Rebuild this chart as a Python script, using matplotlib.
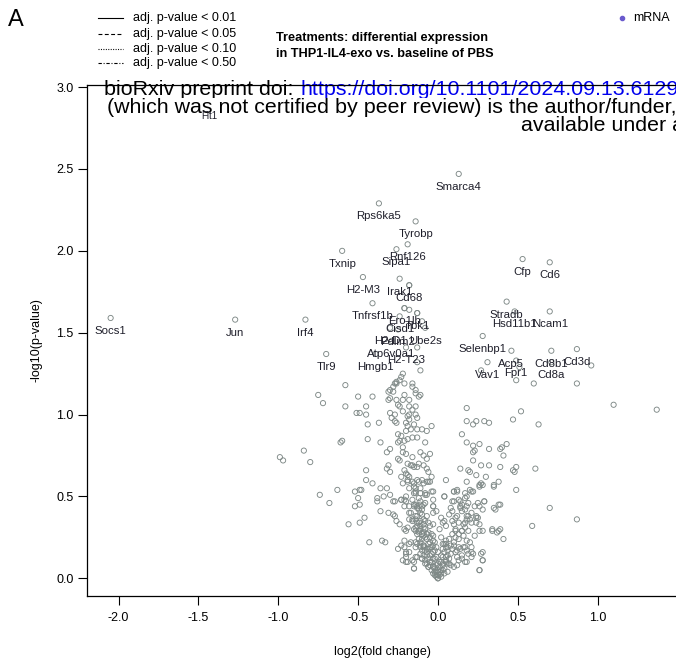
import matplotlib
matplotlib.use("Agg")
import matplotlib.pyplot as plt
from matplotlib.lines import Line2D
from matplotlib import font_manager

plt.rcParams['font.family'] = ['Liberation Sans', 'DejaVu Sans']
plt.rcParams['axes.unicode_minus'] = False

# ---------------- data ----------------
label_genes = ["Flt1", "Socs1", "Jun", "Irf4", "Tlr9", "Txnip", "Rps6ka5", "Smarca4",
               "Tyrobp", "Rnf126", "Sipa1", "H2-M3", "Irak1", "Cd68", "Tnfrsf1b",
               "Ero1lb", "Tbk1", "Cisd1", "H2-D1", "Ube2s", "Pdlim2", "Atp6v0a1",
               "H2-T23", "Hmgb1", "Cfp", "Cd6", "Stradb", "Hsd11b1", "Ncam1",
               "Selenbp1", "Acp5", "Cd8b1", "Cd3d", "Vav1", "Fpr1", "Cd8a"]
label_lfc = [-1.43, -2.05, -1.27, -0.83, -0.70, -0.60, -0.37, 0.13,
             -0.14, -0.19, -0.26, -0.47, -0.24, -0.18, -0.41,
             -0.21, -0.13, -0.24, -0.30, -0.08, -0.25, -0.29,
             -0.20, -0.39, 0.53, 0.70, 0.43, 0.48, 0.70,
             0.28, 0.46, 0.71, 0.87, 0.31, 0.49, 0.71]
label_nlp = [2.90, 1.59, 1.58, 1.58, 1.37, 2.00, 2.29, 2.47,
             2.18, 2.04, 2.01, 1.84, 1.83, 1.79, 1.68,
             1.65, 1.62, 1.60, 1.53, 1.53, 1.52, 1.45,
             1.41, 1.37, 1.95, 1.93, 1.69, 1.63, 1.63,
             1.48, 1.39, 1.39, 1.40, 1.32, 1.33, 1.32]
label_size = [7] + [8.2] * (len(label_genes) - 1)

other_lfc = [
    -0.58, -0.27, -0.26, -0.21, -0.16, -0.14, -0.12, -0.75, -0.72, -0.50, -0.41, -0.58, -0.45,
    -0.31, -0.28, -0.26, -0.31, -0.22, -0.25, -0.24, -0.18, -0.14, -0.51, -0.49, -0.45, -0.30,
    -0.27, -0.18, -0.19, -0.14, -0.44, -0.37, -0.29, -0.27, -0.26, -0.20, -0.15, -0.19, -0.17,
    -0.13, -0.10, -0.07, -0.04, -0.25, -0.44, -0.36, -0.61, -0.60, -0.25, -0.24, -0.21, -0.19,
    -0.16, -0.13, -0.84, -0.80, -0.97, -0.99, -0.32, -0.30, -0.25, -0.24, -0.22, -0.20, -0.16,
    -0.11, -0.09, -0.07, -0.31, -0.32, -0.30, -0.45, -0.19, -0.16, -0.15, -0.13, -0.12, -0.09,
    -0.07, -0.20, -0.18, -0.19, -0.16, -0.13, -0.10, -0.07, -0.05, -0.45, -0.41, -0.36, -0.32,
    -0.23, -0.15, -0.14, -0.11, -0.08, -0.07, -0.03, -0.14, -0.74, -0.63, -0.68, -0.52, -0.49,
    -0.48, -0.50, -0.52, -0.49, -0.46, -0.56, -0.49, -0.38, -0.38, -0.34, -0.30, -0.28, -0.27,
    -0.23, -0.21, -0.20, -0.18, -0.15, -0.13, -0.11, -0.09, -0.03, -0.36, -0.31, -0.28, -0.27,
    -0.26, -0.24, -0.21, -0.20, -0.18, -0.16, -0.14, -0.13, -0.11, -0.09, -0.06, -0.03, -0.14,
    -0.12, -0.09, -0.07, -0.04, -0.03, -0.43, -0.35, -0.33, -0.25, -0.23, -0.21, -0.20, -0.18,
    -0.17, -0.13, -0.11, -0.09, -0.07, -0.05, -0.20, -0.19, -0.15, -0.14, -0.15, -0.11, -0.10,
    -0.08, -0.07, -0.06, -0.05, -0.03, -0.02, -0.01, 0.00,
    0.18, 0.18, 0.22, 0.24, 0.29, 0.32, 0.15, 0.18, 0.22, 0.26, 0.23, 0.22, 0.32, 0.39, 0.22,
    0.14, 0.19, 0.20, 0.24, 0.27, 0.32, 0.39, 0.30, 0.05, 0.10, 0.12, 0.17, 0.18, 0.20, 0.22,
    0.26, 0.28, 0.35, 0.04, 0.09, 0.13, 0.15, 0.14, 0.18, 0.23, 0.26, 0.28, 0.29, 0.35, 0.39,
    0.08, 0.09, 0.12, 0.15, 0.17, 0.19, 0.21, 0.24, 0.25, 0.28, 0.34, 0.38, 0.03, 0.05, 0.10,
    0.11, 0.15, 0.16, 0.17, 0.18, 0.19, 0.26, 0.05, 0.06, 0.10, 0.12, 0.14, 0.17, 0.18, 0.21,
    0.19, 0.22, 0.27, 0.28, 0.26, 0.15, 0.13, 0.10, 0.05, 0.08, 0.03, 0.06, 0.12, 0.17, 0.04,
    0.02,
    0.49, 0.60, 0.87, 1.10, 1.37, 0.52, 0.47, 0.40, 0.43, 0.41, 0.47, 0.48, 0.49, 0.61, 0.49,
    0.70, 0.87, 0.59, 0.39, 0.41, 0.63,
    0.27, 0.51, 0.96,
    -0.18, -0.21, -0.18, -0.13, -0.10, -0.13, -0.13, -0.11, -0.22, -0.23, -0.24, -0.26, -0.28,
    -0.30, -0.16, -0.14, -0.11, -0.30,
    -0.22, -0.19, -0.15, -0.12, -0.09, -0.06, -0.04, 0.04, 0.10, 0.12, 0.18, 0.21, 0.26, 0.27,
    0.35, 0.38, -0.15, -0.11, -0.08, -0.20, -0.23, -0.21, -0.15, -0.13, -0.10, -0.08, -0.03,
    -0.03, 0.10, 0.14, 0.17, 0.19, 0.25, 0.29, 0.36, 0.38, -0.18, -0.14, -0.11, -0.09, -0.07,
    -0.03, 0.04, 0.09, 0.11, 0.13, 0.14, 0.18, 0.20, 0.21, 0.24, 0.24, 0.26, 0.34, 0.37, -0.19,
    -0.14, -0.12, -0.10, -0.08, -0.03, -0.03, -0.21, -0.18, -0.14, -0.11, -0.09, -0.07, -0.05,
    -0.20, -0.22, -0.16, -0.13, -0.10, -0.08, -0.06, -0.04, -0.03, -0.01, 0.00, 0.03, 0.05,
    0.07, 0.11, 0.13, 0.15, 0.17, 0.09, 0.11, 0.13, 0.16, 0.18, 0.21, 0.12, 0.05, 0.03, 0.02,
    0.01, 0.07, 0.15, 0.18, 0.21, 0.28, 0.28, 0.26, -0.15, -0.20, -0.02, -0.01, 0.00,
    -0.05, -0.04, -0.06, -0.07, -0.08, -0.09, -0.06, -0.05, -0.07, -0.04, -0.03, -0.02, -0.01,
    0.01, 0.02, 0.03, 0.04, 0.05, 0.06, 0.04, -0.10, -0.11, -0.12, -0.09, -0.13, -0.06, -0.05,
    -0.08, -0.10, -0.12, -0.14, -0.16, -0.11, -0.02, 0.00, 0.01, -0.01, 0.02, -0.03, 0.08, 0.10,
    0.06, 0.03,
    -0.02, -0.03, -0.04, -0.05, -0.06, -0.07, -0.08, -0.02, 0.00, 0.01, 0.02, 0.00, -0.01, 0.03,
    0.05, 0.06, 0.07, 0.08, 0.04, 0.02, -0.09, -0.10, -0.11, -0.12, -0.13, -0.14, -0.09, -0.15,
    -0.11, -0.13, -0.16, -0.17, -0.10, -0.12, -0.14, -0.18, -0.19, -0.21, -0.17, -0.22, -0.23,
    -0.20, -0.18, -0.22, -0.16, -0.21, -0.18, -0.13, -0.08, -0.05, -0.06, -0.04, 0.11, 0.13,
    0.09, 0.20, 0.23, 0.16, 0.07, 0.01, 0.02, -0.01,
]
other_nlp = [
    1.18, 1.19, 1.20, 1.19, 1.17, 1.13, 1.11, 1.12, 1.07, 1.11, 1.11, 1.05, 1.05,
    1.14, 1.14, 1.09, 1.09, 1.09, 1.06, 1.05, 1.05, 1.05, 1.01, 1.01, 1.00, 1.01,
    1.00, 1.00, 0.99, 1.00, 0.94, 0.95, 0.98, 0.96, 0.95, 0.95, 0.94, 0.93, 0.91,
    0.91, 0.91, 0.90, 0.93, 0.88, 0.85, 0.83, 0.83, 0.84, 0.83, 0.84, 0.84, 0.85,
    0.86, 0.86, 0.78, 0.71, 0.72, 0.74, 0.77, 0.79, 0.73, 0.72, 0.77, 0.76, 0.74,
    0.77, 0.75, 0.73, 0.69, 0.67, 0.65, 0.66, 0.70, 0.69, 0.68, 0.68, 0.70, 0.69,
    0.67, 0.64, 0.62, 0.60, 0.59, 0.60, 0.60, 0.59, 0.59, 0.60, 0.58, 0.55, 0.55,
    0.62, 0.56, 0.55, 0.55, 0.52, 0.51, 0.53, 0.52, 0.51, 0.54, 0.46, 0.53, 0.54,
    0.54, 0.49, 0.44, 0.45, 0.37, 0.33, 0.34, 0.49, 0.47, 0.50, 0.51, 0.47, 0.47,
    0.48, 0.48, 0.47, 0.44, 0.44, 0.44, 0.45, 0.45, 0.44, 0.41, 0.40, 0.39, 0.38,
    0.35, 0.33, 0.30, 0.29, 0.36, 0.35, 0.36, 0.34, 0.32, 0.33, 0.34, 0.33, 0.29,
    0.28, 0.28, 0.27, 0.27, 0.23, 0.22, 0.23, 0.22, 0.18, 0.20, 0.19, 0.15, 0.16,
    0.22, 0.21, 0.19, 0.20, 0.18, 0.19, 0.13, 0.10, 0.10, 0.13, 0.06, 0.15, 0.12,
    0.11, 0.09, 0.07, 0.10, 0.07, 0.04, 0.02, 0.00,
    1.04, 0.96, 0.94, 0.96, 0.96, 0.95, 0.88, 0.83, 0.81, 0.82, 0.78, 0.77, 0.79, 0.79, 0.72,
    0.67, 0.66, 0.65, 0.63, 0.69, 0.69, 0.68, 0.62, 0.60, 0.53, 0.54, 0.52, 0.50, 0.54, 0.53,
    0.56, 0.57, 0.57, 0.50, 0.47, 0.48, 0.45, 0.44, 0.44, 0.44, 0.44, 0.42, 0.47, 0.43, 0.45,
    0.43, 0.41, 0.38, 0.41, 0.42, 0.38, 0.34, 0.37, 0.37, 0.29, 0.30, 0.29, 0.34, 0.32, 0.33,
    0.30, 0.29, 0.26, 0.34, 0.36, 0.29, 0.33, 0.21, 0.19, 0.20, 0.17, 0.18, 0.19, 0.23, 0.19,
    0.15, 0.15, 0.15, 0.11, 0.05, 0.14, 0.11, 0.07, 0.10, 0.08, 0.05, 0.04, 0.08, 0.10, 0.03,
    0.01,
    1.21, 1.19, 1.19, 1.06, 1.03, 1.02, 0.97, 0.80, 0.82, 0.75, 0.66, 0.65, 0.68, 0.67, 0.54,
    0.43, 0.36, 0.32, 0.30, 0.24, 0.94,
    1.27, 1.29, 1.30,
    1.79, 1.65, 1.64, 1.62, 1.57, 1.41, 1.32, 1.27, 1.25, 1.23, 1.21, 1.19, 1.17,
    1.15, 1.19, 1.15, 1.12, 1.10,
    0.58, 0.59, 0.58, 0.59, 0.58, 0.59, 0.53, 0.50, 0.53, 0.53, 0.59, 0.53, 0.57, 0.58,
    0.56, 0.59, 0.52, 0.52, 0.51, 0.50, 0.48, 0.44, 0.45, 0.43, 0.44, 0.46, 0.48,
    0.44, 0.47, 0.47, 0.49, 0.46, 0.46, 0.47, 0.42, 0.45, 0.40, 0.38, 0.40, 0.36, 0.38,
    0.40, 0.35, 0.35, 0.37, 0.34, 0.43, 0.38, 0.36, 0.40, 0.38, 0.34, 0.29, 0.29, 0.28, 0.31,
    0.31, 0.29, 0.27, 0.25, 0.26, 0.20, 0.23, 0.21, 0.19, 0.22, 0.19, 0.16, 0.14,
    0.16, 0.11, 0.11, 0.13, 0.12, 0.09, 0.07, 0.05, 0.03, 0.01, 0.00, 0.21, 0.23,
    0.24, 0.25, 0.27, 0.29, 0.31, 0.18, 0.16, 0.19, 0.19, 0.17, 0.16, 0.13, 0.11, 0.08, 0.05,
    0.02, 0.09, 0.12, 0.10, 0.13, 0.16, 0.11, 0.05, 0.06, 0.10, 0.17, 0.13, 0.09,
    0.08, 0.10, 0.12, 0.14, 0.17, 0.20, 0.18, 0.22, 0.24, 0.15, 0.12, 0.06, 0.04,
    0.07, 0.10, 0.13, 0.16, 0.19, 0.14, 0.06, 0.24, 0.30, 0.34, 0.31, 0.38, 0.28, 0.32,
    0.35, 0.39, 0.42, 0.45, 0.48, 0.47, 0.02, 0.02, 0.04, 0.08, 0.03, 0.07, 0.20, 0.22,
    0.09, 0.18,
    0.12, 0.16, 0.19, 0.25, 0.21, 0.27, 0.30, 0.22, 0.05, 0.10, 0.14, 0.16, 0.19, 0.09,
    0.13, 0.17, 0.12, 0.15, 0.21, 0.25, 0.14, 0.17, 0.20, 0.24, 0.27, 0.22, 0.26, 0.30,
    0.35, 0.32, 0.36, 0.40, 0.42, 0.49, 0.53, 0.55, 0.63, 0.66, 0.69, 0.80, 0.87,
    0.90, 0.97, 1.02, 1.03, 1.12, 1.09, 0.98, 0.83, 0.76, 0.65, 0.62, 0.29, 0.24,
    0.27, 0.22, 0.26, 0.33, 0.39, 0.30, 0.37, 0.41,
]

xticks = [-2.0, -1.5, -1.0, -0.5, 0.0, 0.5, 1.0]
yticks = [0.0, 0.5, 1.0, 1.5, 2.0, 2.5, 3.0]
legend_labels = ["adj. p-value < 0.01", "adj. p-value < 0.05",
                 "adj. p-value < 0.10", "adj. p-value < 0.50"]

# ---------------- figure ----------------
W, H = 676, 665
fig = plt.figure(figsize=(W / 100, H / 100), dpi=100)
ax = fig.add_axes([87 / W, (H - 596) / H, (677 - 87) / W, (596 - 85) / H])
ax.set_xlim(-2.198, 1.497)
ax.set_ylim(-0.108, 3.013)

pt_color = '#7f8987'
ax.scatter(other_lfc, other_nlp, s=14, facecolors='none', edgecolors=pt_color,
           linewidths=0.65, zorder=1)
ax.scatter(label_lfc, label_nlp, s=14, facecolors='none', edgecolors=pt_color,
           linewidths=0.65, zorder=1)
for g, x, y, fs in zip(label_genes, label_lfc, label_nlp, label_size):
    ax.annotate(g, (x, y), xytext=(0, -9.3), textcoords='offset points',
                ha='center', va='center', fontsize=fs, color='#1e1e2a', zorder=3)

ax.set_xticks(xticks)
ax.set_xticklabels([f"{t:.1f}" for t in xticks])
ax.set_yticks(yticks)
ax.set_yticklabels([f"{t:.1f}" for t in yticks])
ax.tick_params(direction='out', length=6.5, width=0.8, labelsize=9, colors='black')
ax.tick_params(axis='x', pad=5)
ax.tick_params(axis='y', pad=3)
for sp in ax.spines.values():
    sp.set_linewidth(0.9)
    sp.set_zorder(2.5)

ax.set_xlabel("log2(fold change)", fontsize=9, labelpad=16)
ax.set_ylabel("-log10(p-value)", fontsize=9, labelpad=10)

# overlay preprint text
tf = fig.transFigure
ofs = 15.4
ax.text(104 / W, 1 - 95 / H, "bioRxiv preprint doi: ", transform=tf, fontsize=ofs,
        va='baseline', ha='left', color='black', zorder=2.2,
        bbox=dict(facecolor='white', edgecolor='none', pad=0))
ax.text(300 / W, 1 - 95 / H, "https://doi.org/10.1101/2024.09.13.6129",
        transform=tf, fontsize=ofs, va='baseline', ha='left', color='#0000ee',
        zorder=2.2)
ax.text(107 / W, 1 - 113 / H, "(which was not certified by peer review) is the author/funder,",
        transform=tf, fontsize=ofs, va='baseline', ha='left', color='black', zorder=2.2,
        bbox=dict(facecolor='white', edgecolor='none', pad=0))
ax.text(521 / W, 1 - 131 / H, "available under a",
        transform=tf, fontsize=ofs, va='baseline', ha='left', color='black', zorder=2.2)

# panel letter
fig.text(8 / W, 1 - 20 / H, "A", fontsize=17, va='center', ha='left')

# line-type legend
styles = ['-', (0, (3.5, 2.2)), (0, (0.9, 1.3)), (0, (3, 1.6, 0.9, 1.6))]
rows = [18, 34, 49, 63]
for ls, lab, r in zip(styles, legend_labels, rows):
    fig.add_artist(Line2D([98 / W, 123 / W], [1 - r / H] * 2, transform=tf,
                          color='black', lw=0.8, linestyle=ls))
    fig.text(133 / W, 1 - r / H, lab, fontsize=9, va='center', ha='left')

# title
names = {f.name for f in font_manager.fontManager.ttflist}
tfam = 'Liberation Sans Narrow' if 'Liberation Sans Narrow' in names else 'Liberation Sans'
tsize = 10 if tfam == 'Liberation Sans Narrow' else 9.2
fig.text(276 / W, 1 - 38 / H, "Treatments: differential expression", fontsize=tsize,
         fontweight='bold', family=tfam, va='center', ha='left')
fig.text(276 / W, 1 - 54 / H, "in THP1-IL4-exo vs. baseline of PBS", fontsize=tsize,
         fontweight='bold', family=tfam, va='center', ha='left')

# mRNA legend
fig.add_artist(Line2D([622 / W], [1 - 18 / H], transform=tf, marker='o', markersize=3,
                      color='#6a5acd', linestyle='none'))
fig.text(633 / W, 1 - 18 / H, "mRNA", fontsize=9, va='center', ha='left')

fig.savefig("out.png", dpi=100)
